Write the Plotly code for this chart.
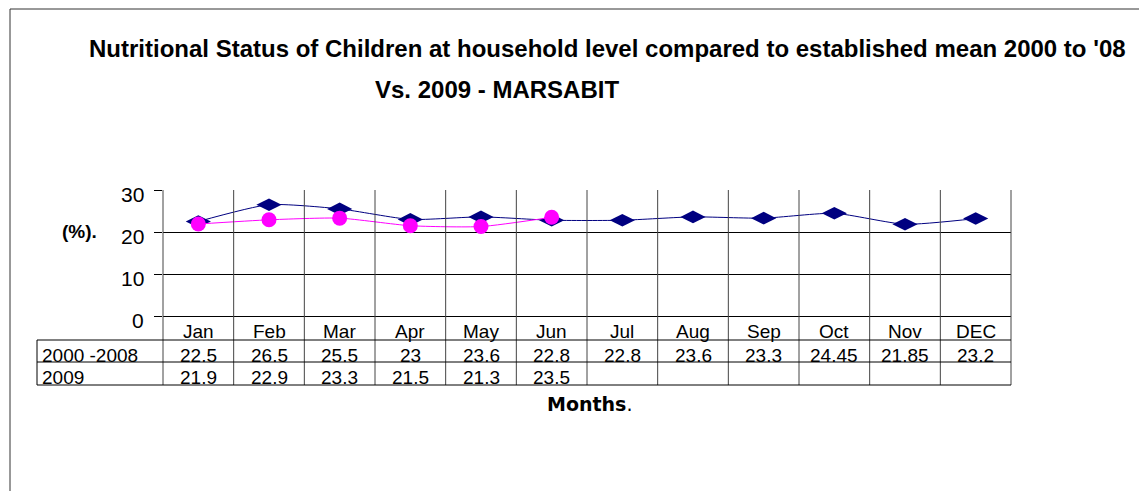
import plotly.graph_objects as go

months = ["Jan", "Feb", "Mar", "Apr", "May", "Jun", "Jul", "Aug", "Sep", "Oct", "Nov", "DEC"]
series_names = ["2000 -2008", "2009"]
mean_2000_2008 = [22.5, 26.5, 25.5, 23, 23.6, 22.8, 22.8, 23.6, 23.3, 24.45, 21.85, 23.2]
values_2009 = [21.9, 22.9, 23.3, 21.5, 21.3, 23.5]
y_ticks = [0, 10, 20, 30]

# page body has an 8px default margin; work in reference-pixel coordinates and shift
OFF = 8
W_FIG, H_FIG = 1147 - OFF, 491 - OFF
L, R, T, B = 163, 1011, 190, 316
PW, PH = R - L, B - T
FONT = "Liberation Sans, Arial, sans-serif"
WIDE_BOLD = "DejaVu Sans, Liberation Sans, sans-serif"


def px(x):
    return (x - L) / PW


def py(y):
    return (B - y) / PH


fig = go.Figure()
fig.add_trace(go.Scatter(
    x=months, y=mean_2000_2008, name=series_names[0], mode="lines+markers",
    line=dict(color="#000080", width=1, shape="spline", smoothing=0.6),
    marker=dict(symbol="diamond-wide", size=18, color="#000080"),
))
fig.add_trace(go.Scatter(
    x=months[:len(values_2009)], y=values_2009, name=series_names[1], mode="lines+markers",
    line=dict(color="#FF00FF", width=1, shape="spline", smoothing=0.6),
    marker=dict(symbol="circle", size=15, color="#FF00FF"),
))

shapes = []
n = len(months)
for i in range(n + 1):
    xp = i / n
    shapes.append(dict(type="line", xref="paper", yref="paper", x0=xp, x1=xp,
                       y0=py(T), y1=py(385), line=dict(color="#444444", width=1)))
for yy in (340, 362, 385):
    shapes.append(dict(type="line", xref="paper", yref="paper", x0=px(37), x1=1,
                       y0=py(yy), y1=py(yy), line=dict(color="black", width=1)))
shapes.append(dict(type="line", xref="paper", yref="paper", x0=px(37), x1=px(37),
                   y0=py(340), y1=py(385), line=dict(color="black", width=1)))
shapes.append(dict(type="line", xref="paper", yref="paper", x0=px(10), x1=px(1160),
                   y0=py(9), y1=py(9), line=dict(color="#333333", width=1)))
shapes.append(dict(type="line", xref="paper", yref="paper", x0=px(10), x1=px(10),
                   y0=py(9), y1=py(520), line=dict(color="#333333", width=1)))

ann = []
tf = dict(family=FONT, size=19, color="black")
for m in months:
    ann.append(dict(x=m, xref="x", y=py(331), yref="paper", text=m, showarrow=False,
                    font=tf, xanchor="center", yanchor="middle"))
for m, v in zip(months, mean_2000_2008):
    ann.append(dict(x=m, xref="x", y=py(355), yref="paper", text=str(v), showarrow=False,
                    font=tf, xanchor="center", yanchor="middle"))
for m, v in zip(months, values_2009):
    ann.append(dict(x=m, xref="x", y=py(377), yref="paper", text=str(v), showarrow=False,
                    font=tf, xanchor="center", yanchor="middle"))
ann.append(dict(x=px(40), xref="paper", y=py(355), yref="paper", text=series_names[0],
                showarrow=False, font=tf, xanchor="left", yanchor="middle"))
ann.append(dict(x=px(40), xref="paper", y=py(377), yref="paper", text=series_names[1],
                showarrow=False, font=tf, xanchor="left", yanchor="middle"))
for t in y_ticks:
    ann.append(dict(x=px(146), xref="paper", y=t, yref="y", yshift=-4, text=str(t),
                    showarrow=False, font=dict(family=FONT, size=21, color="black"),
                    xanchor="right", yanchor="middle"))
ann.append(dict(x=px(79), xref="paper", y=py(231), yref="paper", text="<b>(%).</b>",
                showarrow=False, font=dict(family=FONT, size=19, color="black"),
                xanchor="center", yanchor="middle"))
ann.append(dict(x=px(589), xref="paper", y=py(404), yref="paper", text="<b>Months</b>.",
                showarrow=False, font=dict(family=WIDE_BOLD, size=19, color="black"),
                xanchor="center", yanchor="middle"))
ann.append(dict(x=px(607), xref="paper", y=py(48), yref="paper",
                text="<b>Nutritional Status of Children at household level compared to established mean 2000 to '08</b>",
                showarrow=False, font=dict(family=FONT, size=24, color="black"),
                xanchor="center", yanchor="middle"))
ann.append(dict(x=px(497), xref="paper", y=py(90), yref="paper",
                text="<b>Vs. 2009 - MARSABIT</b>",
                showarrow=False, font=dict(family=FONT, size=24, color="black"),
                xanchor="center", yanchor="middle"))

fig.update_layout(
    width=W_FIG, height=H_FIG,
    margin=dict(l=L - OFF, r=(W_FIG + OFF) - R, t=T - OFF, b=(H_FIG + OFF) - B, pad=0),
    paper_bgcolor="white", plot_bgcolor="white",
    showlegend=False,
    shapes=shapes, annotations=ann,
    font=dict(family=FONT, size=19, color="black"),
    xaxis=dict(type="category", range=[-0.5, n - 0.5], showticklabels=False,
               showgrid=False, zeroline=False, showline=False, fixedrange=True),
    yaxis=dict(range=[0, 30], tickvals=y_ticks, showticklabels=False,
               showgrid=True, gridcolor="black", gridwidth=1,
               zeroline=True, zerolinecolor="black", zerolinewidth=1,
               ticks="outside", ticklen=8, tickcolor="black", showline=False,
               fixedrange=True),
)

fig.write_html("out.html")
